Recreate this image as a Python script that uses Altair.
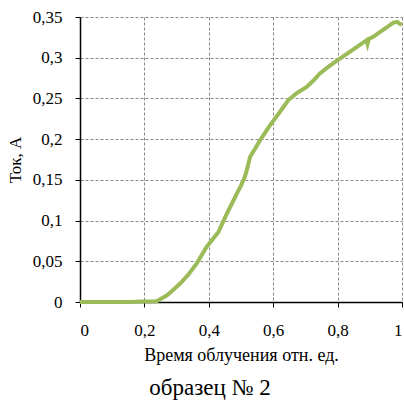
import altair as alt
import pandas as pd

t = [0.0, 0.05, 0.10, 0.15, 0.20, 0.238, 0.269, 0.29, 0.311, 0.335, 0.362, 0.393, 0.412, 0.43, 0.456,
     0.472, 0.487, 0.500, 0.512, 0.520, 0.528, 0.545, 0.559, 0.59, 0.62, 0.647, 0.675, 0.704, 0.725,
     0.745, 0.775, 0.807, 0.83, 0.859, 0.89, 0.893, 0.897, 0.912, 0.932, 0.955, 0.973, 0.985, 0.999]
current = [0.0, 0.0, 0.0, 0.0, 0.0005, 0.001, 0.008, 0.015, 0.0226, 0.033, 0.047, 0.0676, 0.077, 0.086, 0.1086,
           0.121, 0.133, 0.143, 0.1536, 0.165, 0.178, 0.189, 0.1986, 0.217, 0.233, 0.248, 0.257, 0.264, 0.272,
           0.2806, 0.29, 0.299, 0.305, 0.313, 0.3215, 0.317, 0.323, 0.326, 0.3317, 0.338, 0.343, 0.344, 0.340]

df = pd.DataFrame({"t": t, "I": current})

font = "Liberation Serif"

chart = alt.Chart(df).mark_line(color="#9BBB59", strokeWidth=4, interpolate="linear").encode(
    x=alt.X("t:Q", scale=alt.Scale(domain=[0, 1], nice=False),
            axis=alt.Axis(values=[0, 0.2, 0.4, 0.6, 0.8, 1.0], format=".1~f",
                          labelExpr="replace(datum.label, '.', ',')",
                          labelFont=font, labelFontSize=17, titleFont=font,
                          title="Время облучения отн. ед.", titleFontSize=18,
                          titleFontWeight="normal", titlePadding=8,
                          labelPadding=15)),
    y=alt.Y("I:Q", scale=alt.Scale(domain=[0, 0.35], nice=False),
            axis=alt.Axis(values=[0, 0.05, 0.1, 0.15, 0.2, 0.25, 0.3, 0.35], format=".2~f",
                          labelExpr="replace(datum.label, '.', ',')",
                          labelFont=font, labelFontSize=17, titleFont=font,
                          title="Ток, А", titleFontSize=17, titleFontWeight="normal",
                          titlePadding=8, labelPadding=13)),
).properties(
    width=322, height=285,
    background="white",
    title=alt.TitleParams("образец № 2", orient="bottom", anchor="middle", dx=-31,
                          fontSize=23, fontWeight="normal", font=font, offset=13),
    padding={"left": 80, "top": 17, "right": 2, "bottom": 100},
    autosize=alt.AutoSizeParams(type="none"),
).configure(font=font).configure_axis(
    labelFont=font, titleFont=font,
    labelColor="#000", titleColor="#000",
    domainColor="#000", domainWidth=1.5, tickColor="#000", tickSize=5,
    grid=True, gridColor="#888", gridDash=[3, 2], gridWidth=1,
).configure_view(stroke=None)

chart.save("out.html", embed_options={"renderer": "svg", "actions": False})
